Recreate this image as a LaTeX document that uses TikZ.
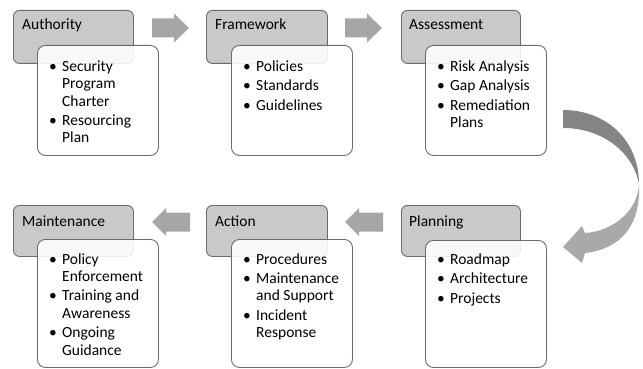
\documentclass[tikz,border=0pt]{standalone}
\usepackage{fontspec}
\setmainfont{Carlito}
\definecolor{hdrfill}{HTML}{C9C9C9}
\definecolor{edge}{HTML}{6B6B6B}
\definecolor{arrowgray}{HTML}{A6A6A6}
\definecolor{curvedark}{HTML}{858585}
\definecolor{curvelight}{HTML}{A9A9A9}
\newcommand{\bitem}[1]{\par\noindent\hangindent=13pt\hangafter=1\makebox[13pt][l]{\textbullet}#1}
\newcommand{\blist}[1]{\parbox[t]{105pt}{\fontsize{15.5}{17.3}\selectfont\setlength{\parskip}{2.3pt}#1}}
\begin{document}
\begin{tikzpicture}[x=1pt,y=-1pt,
  hdr/.style={draw=edge, line width=0.9pt, fill=hdrfill, rounded corners=6pt, anchor=north west, inner sep=0pt},
  bodybox/.style={draw=edge, line width=0.9pt, fill=white, fill opacity=0.88, rounded corners=8pt, anchor=north west, inner sep=0pt, minimum width=121pt},
  hdrtext/.style={anchor=base west, inner sep=0pt, font=\fontsize{15.5}{17}\selectfont},
  listtext/.style={anchor=base west, inner sep=0pt, text opacity=1},
  rarrow/.pic={\fill[arrowgray] (0,-9.5) -- (22,-9.5) -- (22,-14.5) -- (37,0) -- (22,14.5) -- (22,9.5) -- (0,9.5) -- cycle;},
  larrow/.pic={\fill[arrowgray] (0,-9.5) -- (-24,-9.5) -- (-24,-14) -- (-38,0) -- (-24,14) -- (-24,9.5) -- (0,9.5) -- cycle;}
]
\useasboundingbox (0,0) rectangle (643,369);

% ---- Row 1 ----
\node[hdr, minimum width=120pt, minimum height=53pt] (authH) at (13,10) {};
\node[hdrtext] (authT) at (22,30) {Authority};
\node[bodybox, minimum height=110pt] (authB) at (37,45) {};
\node[listtext] (authL) at (49,71.5) {\blist{\bitem{Security\newline Program\newline Charter}\bitem{Resourcing\newline Plan}}};

\node[hdr, minimum width=121pt, minimum height=53pt] (frameH) at (206,10) {};
\node[hdrtext] (frameT) at (215,30) {Framework};
\node[bodybox, minimum height=110pt] (frameB) at (231,45) {};
\node[listtext] (frameL) at (243,71) {\blist{\bitem{Policies}\bitem{Standards}\bitem{Guidelines}}};

\node[hdr, minimum width=119pt, minimum height=53pt] (assessH) at (401,10) {};
\node[hdrtext] (assessT) at (409,30) {Assessment};
\node[bodybox, minimum height=110pt] (assessB) at (425,45) {};
\node[listtext] (assessL) at (437,71) {\blist{\bitem{Risk Analysis}\bitem{Gap Analysis}\bitem{Remediation\newline Plans}}};

% ---- Row 2 ----
\node[hdr, minimum width=120pt, minimum height=51pt] (maintH) at (13,205) {};
\node[hdrtext] (maintT) at (22,226) {Maintenance};
\node[bodybox, minimum height=128pt] (maintB) at (37,239) {};
\node[listtext] (maintL) at (49,264) {\blist{\bitem{Policy\newline Enforcement}\bitem{Training and\newline Awareness}\bitem{Ongoing\newline Guidance}}};

\node[hdr, minimum width=121pt, minimum height=51pt] (actH) at (206,205) {};
\node[hdrtext] (actT) at (215,226) {Action};
\node[bodybox, minimum height=128pt] (actB) at (231,239) {};
\node[listtext] (actL) at (243,264) {\blist{\bitem{Procedures}\bitem{Maintenance\newline and Support}\bitem{Incident\newline Response}}};

\node[hdr, minimum width=119pt, minimum height=51pt] (planH) at (401,205) {};
\node[hdrtext] (planT) at (409,226) {Planning};
\node[bodybox, minimum height=127pt] (planB) at (425,240) {};
\node[listtext] (planL) at (437,264) {\blist{\bitem{Roadmap}\bitem{Architecture}\bitem{Projects}}};

% ---- Block arrows ----
\coordinate (a1) at (152,28);
\coordinate (a2) at (345,28);
\coordinate (a3) at (190,222);
\coordinate (a4) at (383,222);
\pic at (a1) {rarrow};
\pic at (a2) {rarrow};
\pic at (a3) {larrow};
\pic at (a4) {larrow};

% ---- Curved arrow ----
\coordinate (cStartTop) at (563,110);
\coordinate (cStartBot) at (563,128);
\coordinate (cTwist) at (639,184);
\coordinate (cTip) at (563,247);
\fill[curvedark] (cStartTop) .. controls (606,110) and (639,140) .. (cTwist)
  .. controls (633,152) and (602,128) .. (cStartBot) -- cycle;
\fill[curvelight] (cTwist) .. controls (638,210) and (614,231) .. (585,233)
  -- (582,226) -- (cTip) -- (582,263) -- (585,253)
  .. controls (622,249) and (641,224) .. (cTwist) -- cycle;
\end{tikzpicture}
\end{document}
